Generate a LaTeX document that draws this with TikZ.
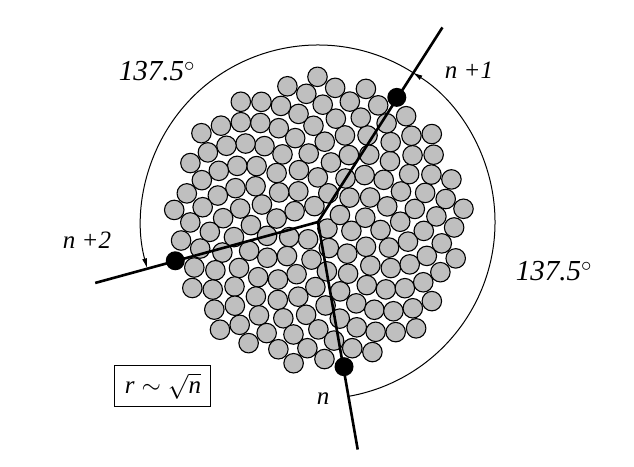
\documentclass[tikz,border=0pt]{standalone}
\usepackage{fontspec}
\setmainfont{Liberation Serif}
\usepackage{amsmath}
\usepackage{tikz}
\usetikzlibrary{arrows.meta}

\definecolor{seedgray}{gray}{0.75}

\begin{document}
\begin{tikzpicture}[x=1pt, y=1pt,
  seed/.style={circle, draw, line width=1.1pt, fill=seedgray, minimum size=19.5pt, inner sep=0pt},
  dot/.style={circle, fill=black, minimum size=19pt, inner sep=0pt},
  ray/.style={line width=2.6pt},
  turn/.style={line width=1pt, -{Latex[length=10pt, width=5pt]}},
  lbl/.style={font=\fontsize{25}{30}\selectfont\itshape, inner sep=1pt},
  angle/.style={font=\fontsize{29}{34}\selectfont\itshape, inner sep=1pt}]
  \useasboundingbox (-318,-244) rectangle (316,222);
  \coordinate (c) at (0,0);
  % seeds 1 ... n-1
  \foreach \k in {1,...,162}{
    \pgfmathsetmacro{\a}{2.5*mod(55*\k,144)-172.3}
    \pgfmathsetmacro{\r}{11.514*sqrt(\k)}
    \node (s\k) [seed] at (\a:\r) {};
  }
  % rays
  \coordinate (e0) at (-80.1:231);
  \coordinate (e1) at (57.4:231);
  \coordinate (e2) at (195.3:231);
  \draw[ray] (c) -- (e0);
  \draw[ray] (c) -- (e1);
  \draw[ray] (c) -- (e2);
  % newest seeds
  \node (n0) [dot] at (-79.8:147.0) {};
  \node (n1) [dot] at (57.7:147.45) {};
  \node (n2) [dot] at (195.2:147.9) {};
  % divergence
  \coordinate (a0) at (-79.8:177);
  \coordinate (a1) at (57.7:177);
  \draw[turn] (a0) arc[start angle=-79.8, end angle=57.7, radius=177];
  \draw[turn] (a1) arc[start angle=57.7, end angle=195.2, radius=177];
  \node (t1) [angle] at (-161,151) {137.5$^{\circ}$};
  \node (t2) [angle] at (236,-49) {137.5$^{\circ}$};
  \node (l1) [lbl] at (151,152) {n +1};
  \node (l2) [lbl] at (-231,-18) {n +2};
  \node (l0) [lbl] at (5,-177) {n};
  \node (law) [draw, line width=1pt, minimum width=96pt, minimum height=41pt,
    font=\fontsize{25}{30}\selectfont] at (-155,-164)
    {$\textit{r}\sim\sqrt{\textit{n}}$};
\end{tikzpicture}
\end{document}
